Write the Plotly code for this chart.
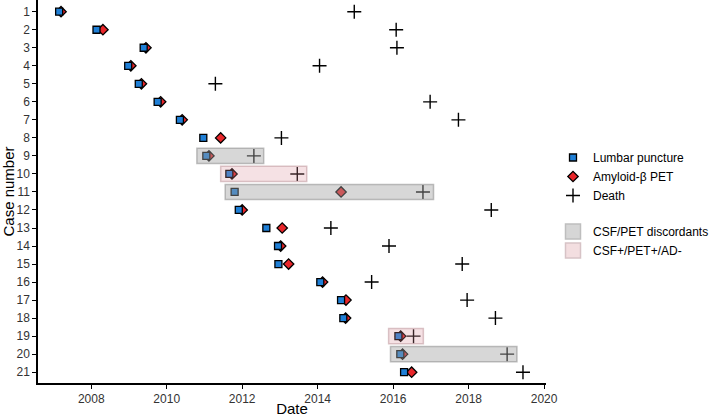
import plotly.graph_objects as go

cases = list(range(1, 22))
lp_dates = [2007.15, 2008.14, 2009.39, 2008.98, 2009.26, 2009.76, 2010.35, 2010.97, 2011.05, 2011.66,
            2011.80, 2011.91, 2012.64, 2012.95, 2012.96, 2014.07, 2014.62, 2014.68, 2016.14, 2016.19, 2016.29]
pet_dates = [2007.20, 2008.31, 2009.45, 2009.05, 2009.33, 2009.84, 2010.41, 2011.43, 2011.12, 2011.73,
             2014.62, 2012.00, 2013.06, 2013.02, 2013.23, 2014.13, 2014.75, 2014.74, 2016.20, 2016.25, 2016.49]
death_dates = [2014.97, 2016.08, 2016.10, 2014.05, 2011.29, 2016.98, 2017.73, 2013.04, 2012.31, 2013.46,
               2016.79, 2018.60, 2014.35, 2015.89, 2017.83, 2015.43, 2017.96, 2018.71, 2016.54, 2019.02, 2019.44]

# highlighted rows: (case, start, end, category)
box_cases = [9, 10, 11, 19, 20]
box_start = [2010.80, 2011.43, 2011.55, 2015.88, 2015.93]
box_end = [2012.57, 2013.71, 2017.07, 2016.80, 2019.28]
box_kind = ["disc", "pos", "disc", "pos", "disc"]

x_ticks = [2008, 2010, 2012, 2014, 2016, 2018, 2020]

BLUE = "#1f7fd6"
RED = "#e8262a"
FONT = "Liberation Sans, Arial, sans-serif"

fig = go.Figure()

fig.add_trace(go.Scatter(
    x=pet_dates, y=cases, mode="markers", name="Amyloid-β PET",
    marker=dict(symbol="diamond", size=8, color=RED, line=dict(color="black", width=1.3)),
    legendgroup="a", legendrank=2))
fig.add_trace(go.Scatter(
    x=lp_dates, y=cases, mode="markers", name="Lumbar puncture",
    marker=dict(symbol="square", size=7, color=BLUE, line=dict(color="black", width=1.3)),
    legendgroup="a", legendrank=1))
fig.add_trace(go.Scatter(
    x=death_dates, y=cases, mode="markers", name="Death",
    marker=dict(symbol="cross-thin", size=10, color="black", line=dict(color="black", width=1.4)),
    legendgroup="a", legendrank=3))

GREY_FILL = "rgba(160,160,160,0.42)"
GREY_LINE = "rgba(140,140,140,0.55)"
PINK_FILL = "rgba(215,140,150,0.26)"
PINK_LINE = "rgba(190,150,155,0.55)"

for c, s, e, k in zip(box_cases, box_start, box_end, box_kind):
    fig.add_shape(type="rect", x0=s, x1=e, y0=c - 0.42, y1=c + 0.42,
                  xref="x", yref="y", layer="above",
                  fillcolor=GREY_FILL if k == "disc" else PINK_FILL,
                  line=dict(color=GREY_LINE if k == "disc" else PINK_LINE, width=1.5))

fig.add_trace(go.Scatter(
    x=[None], y=[None], mode="markers", name="CSF/PET discordants",
    marker=dict(symbol="square", size=15, color="rgb(214,214,214)", line=dict(color="rgb(190,190,190)", width=1.5)),
    legendgroup="b", legendrank=4))
fig.add_trace(go.Scatter(
    x=[None], y=[None], mode="markers", name="CSF+/PET+/AD-",
    marker=dict(symbol="square", size=15, color="rgb(243,222,224)", line=dict(color="rgb(215,195,198)", width=1.5)),
    legendgroup="b", legendrank=5))

fig.update_layout(
    width=709, height=417,
    margin=dict(l=38, r=163, t=0, b=34, autoexpand=False),
    paper_bgcolor="white", plot_bgcolor="white",
    font=dict(family=FONT, size=12, color="black"),
    legend=dict(xref="container", yref="container", x=553 / 709, xanchor="left",
                y=1 - 143 / 417, yanchor="top",
                traceorder="grouped", tracegroupgap=17,
                font=dict(family=FONT, size=12, color="black"),
                bgcolor="rgba(0,0,0,0)"),
)
fig.update_xaxes(
    range=[2006.59, 2020.05], tickvals=x_ticks, ticktext=[str(t) for t in x_ticks],
    showline=True, linecolor="black", linewidth=1.5, ticks="outside", ticklen=4,
    tickcolor="black", showgrid=False, zeroline=False,
    title=dict(text="Date", font=dict(family=FONT, size=15), standoff=2),
    tickfont=dict(family=FONT, size=12, color="#333333"))
fig.update_yaxes(
    range=[21.6, 0.35], tickvals=cases, ticktext=[str(c) for c in cases],
    showline=True, linecolor="black", linewidth=1.5, ticks="outside", ticklen=4,
    tickcolor="black", showgrid=False, zeroline=False,
    title=dict(text="Case number", font=dict(family=FONT, size=15), standoff=2),
    tickfont=dict(family=FONT, size=12, color="#333333"))

fig.write_html("out.html", config={"displayModeBar": False},
               post_script="document.body.style.margin='0';document.body.style.overflow='hidden';")
